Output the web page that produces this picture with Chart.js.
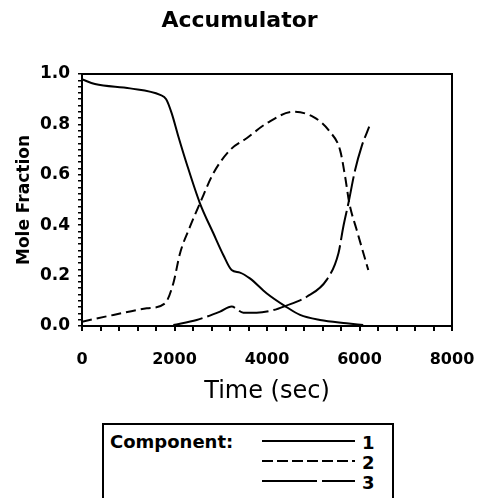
<!DOCTYPE html>
<html><head><meta charset="utf-8">
<script src="https://cdn.jsdelivr.net/npm/chart.js@4"></script>
<style>
html,body{margin:0;padding:0;background:#fff;overflow:hidden;width:479px;height:498px;}
#wrap{position:absolute;left:0;top:0;width:479px;height:410px;}
#legend{position:absolute;left:102px;top:423px;width:292px;height:110px;border:2px solid #000;box-sizing:border-box;font-family:"DejaVu Sans",sans-serif;font-weight:bold;color:#000;}
#legend .t{position:absolute;font-size:18px;line-height:20px;white-space:nowrap;}
#legend svg{position:absolute;left:0;top:0;}
</style></head>
<body>
<div id="wrap"><canvas id="c" width="479" height="410"></canvas></div>
<div id="legend">
  <div class="t" style="left:6px;top:7px;">Component:</div>
  <svg width="288" height="106">
    <line x1="158" y1="16" x2="251" y2="16" stroke="#000" stroke-width="2"/>
    <line x1="158" y1="36" x2="251" y2="36" stroke="#000" stroke-width="2" stroke-dasharray="11,4"/>
    <line x1="158" y1="56" x2="251" y2="56" stroke="#000" stroke-width="2" stroke-dasharray="55,5"/>
  </svg>
  <div class="t" style="left:258px;top:8px;">1</div>
  <div class="t" style="left:258px;top:28px;">2</div>
  <div class="t" style="left:258px;top:48px;">3</div>
</div>
<script>
// ---- data ----
const seriesNames = ["1", "2", "3"];
const time1 = [0, 280, 1040, 1690, 1820, 1940, 2085, 2260, 2550, 2840, 3055, 3235, 3415, 3630, 3990, 4390, 4715, 5145, 5720, 6080];
const frac1 = [0.979, 0.960, 0.943, 0.917, 0.900, 0.844, 0.751, 0.646, 0.487, 0.368, 0.282, 0.222, 0.212, 0.189, 0.130, 0.079, 0.044, 0.024, 0.011, 0.004];
const time2 = [0, 680, 1400, 1795, 1975, 2120, 2335, 2550, 2840, 3200, 3560, 3990, 4570, 5000, 5360, 5580, 5690, 5780, 5940, 6190];
const frac2 = [0.017, 0.044, 0.070, 0.090, 0.170, 0.289, 0.394, 0.487, 0.606, 0.698, 0.745, 0.804, 0.850, 0.830, 0.771, 0.698, 0.592, 0.487, 0.381, 0.222];
const time3 = [1975, 2480, 2985, 3235, 3490, 3775, 4135, 4390, 4860, 5290, 5545, 5650, 5760, 5905, 6045, 6210];
const frac3 = [0.004, 0.024, 0.057, 0.077, 0.053, 0.053, 0.063, 0.079, 0.116, 0.183, 0.289, 0.394, 0.487, 0.619, 0.712, 0.791];
const xTickLabels = [0, 2000, 4000, 6000, 8000];
const yTickLabels = [0.0, 0.2, 0.4, 0.6, 0.8, 1.0];

const pts = (ts, vs) => ts.map((t, i) => ({x: t, y: vs[i]}));
const FONT = "DejaVu Sans";
const dashes = [[], [10, 5], [30, 5]];
const series = [[time1, frac1], [time2, frac2], [time3, frac3]];

new Chart(document.getElementById('c'), {
  type: 'line',
  data: {
    datasets: series.map((s, i) => ({
      label: seriesNames[i],
      data: pts(s[0], s[1]),
      borderColor: '#000',
      borderWidth: 2,
      borderDash: dashes[i],
      pointRadius: 0,
      fill: false,
      cubicInterpolationMode: 'monotone'
    }))
  },
  options: {
    responsive: false,
    animation: false,
    layout: {padding: 0},
    plugins: {
      legend: {display: false},
      tooltip: {enabled: false},
      title: {display: true, text: 'Accumulator', color: '#000',
        font: {family: FONT, size: 22, weight: 'bold'}, padding: {top: 8, bottom: 0}}
    },
    scales: {
      x: {
        type: 'linear', position: 'bottom', min: 0, max: 8000,
        afterFit: s => { s.height = 84; s.paddingLeft = 0; s.paddingRight = 0; },
        ticks: {
          stepSize: 400, autoSkip: false, maxRotation: 0, maxTicksLimit: 1000,
          color: '#000', padding: 19, font: {family: FONT, size: 16, weight: 'bold'},
          callback: v => xTickLabels.includes(v) ? String(v) : ''
        },
        grid: {display: true, drawOnChartArea: false, drawTicks: true, tickLength: 5, color: '#000', lineWidth: 2},
        border: {display: true, color: '#000', width: 2},
        title: {display: true, text: 'Time (sec)', color: '#000',
          font: {family: FONT, size: 24, weight: 'normal'}, padding: {top: 0, bottom: 4}}
      },
      y: {
        type: 'linear', position: 'left', min: 0, max: 1,
        afterFit: s => { s.width = 82; s.paddingTop = 0; s.paddingBottom = 0; },
        ticks: {
          stepSize: 0.025, autoSkip: false, maxTicksLimit: 1000,
          color: '#000', padding: 8, font: {family: FONT, size: 17, weight: 'bold'},
          callback: v => {
            const m = yTickLabels.find(l => Math.abs(l - v) < 1e-6);
            return m === undefined ? '' : m.toFixed(1);
          }
        },
        grid: {display: true, drawOnChartArea: false, drawTicks: true, tickLength: 4, color: '#000', lineWidth: 1.5},
        border: {display: true, color: '#000', width: 2},
        title: {display: true, text: 'Mole Fraction', color: '#000',
          font: {family: FONT, size: 17, weight: 'bold'}, padding: {top: 14, bottom: 0}}
      },
      x2: {
        type: 'linear', position: 'top', min: 0, max: 8000,
        afterFit: s => { s.height = 39.6; s.paddingLeft = 0; s.paddingRight = 0; },
        ticks: {display: false},
        grid: {display: false, drawTicks: false},
        border: {display: true, color: '#000', width: 2}
      },
      y2: {
        type: 'linear', position: 'right', min: 0, max: 1,
        afterFit: s => { s.width = 27; s.paddingTop = 0; s.paddingBottom = 0; },
        ticks: {display: false},
        grid: {display: false, drawTicks: false},
        border: {display: true, color: '#000', width: 2}
      }
    }
  }
});
</script>
</body></html>
